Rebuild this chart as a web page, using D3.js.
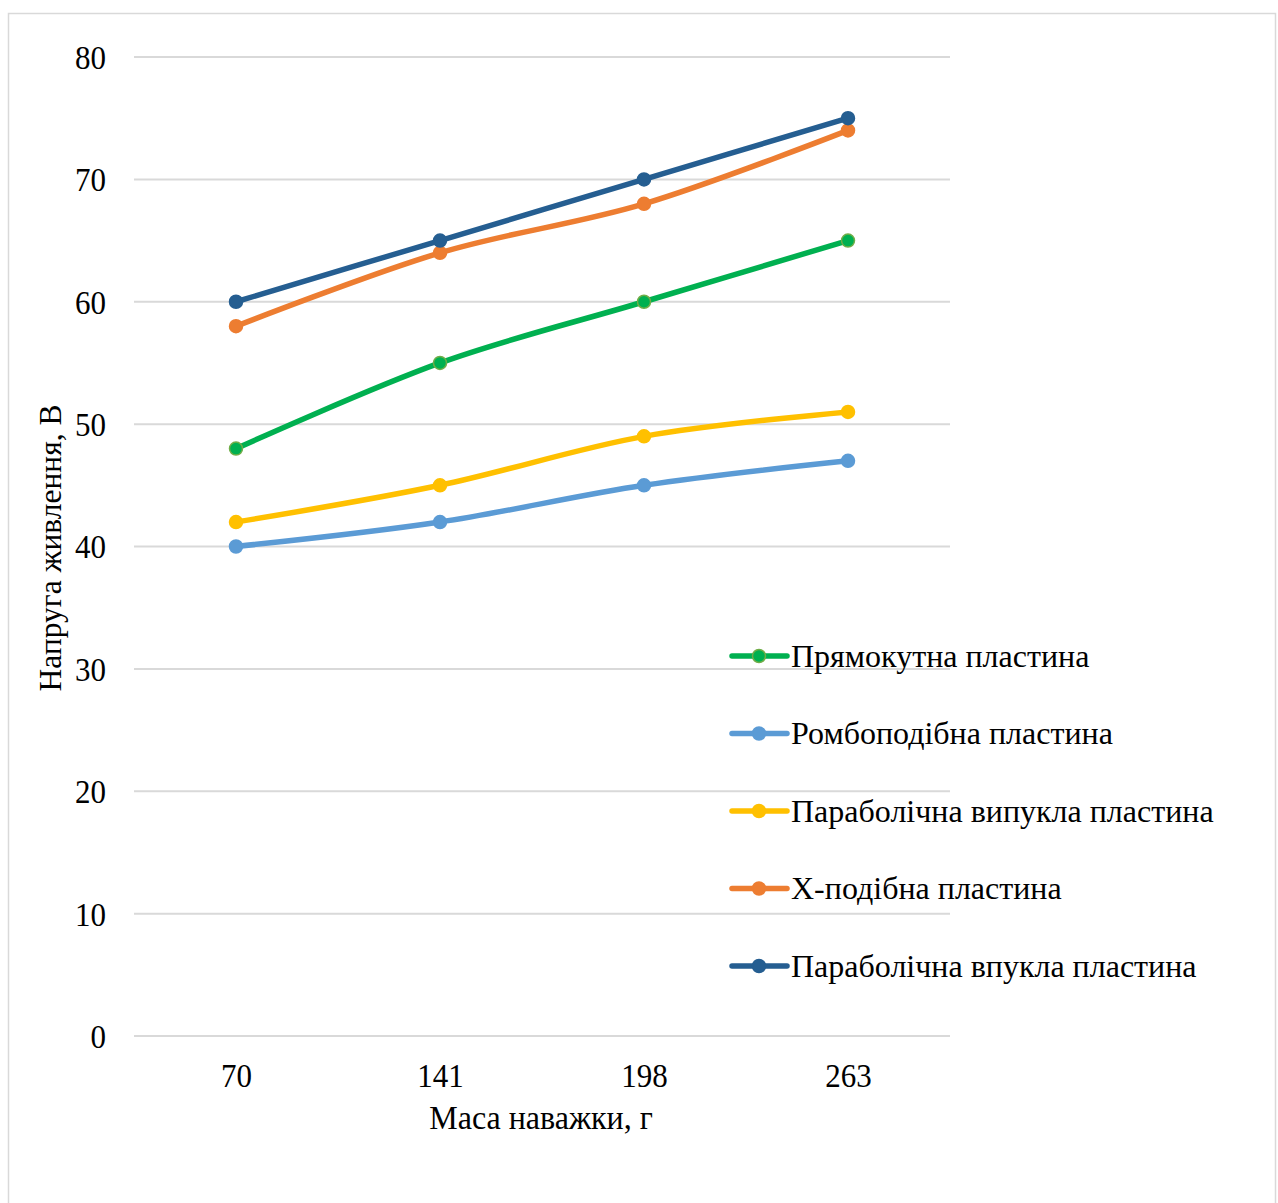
<!DOCTYPE html>
<html>
<head>
<meta charset="utf-8">
<script src="https://cdn.jsdelivr.net/npm/d3@7"></script>
<style>
  html, body { margin: 0; padding: 0; background: #fff; }
  svg { display: block; }
  text { font-family: "Liberation Serif", "Times New Roman", serif; fill: #000; }
</style>
</head>
<body>
<svg id="chart" width="1278" height="1203"></svg>
<script>
// Mass of the weight, g
const categories = ["70", "141", "198", "263"];

// Supply voltage, V, for each plate shape
const seriesNames = [
  "Прямокутна пластина",
  "Ромбоподібна пластина",
  "Параболічна випукла пластина",
  "X-подібна пластина",
  "Параболічна впукла пластина"
];
const rectangular = [48, 55, 60, 65];
const rhombic = [40, 42, 45, 47];
const parabolicConvex = [42, 45, 49, 51];
const xShaped = [58, 64, 68, 74];
const parabolicConcave = [60, 65, 70, 75];

const yTicks = [0, 10, 20, 30, 40, 50, 60, 70, 80];

const colors = ["#00b050", "#5b9bd5", "#ffc000", "#ed7d31", "#255e91"];
const markerStroke = ["#70ad47", "#5b9bd5", "#ffc000", "#ed7d31", "#255e91"];

const series = [rectangular, rhombic, parabolicConvex, xShaped, parabolicConcave]
  .map((values, i) => ({ name: seriesNames[i], values, color: colors[i], stroke: markerStroke[i] }));

const svg = d3.select("#chart");

// outer chart frame
svg.append("rect")
  .attr("x", 8.5).attr("y", 13.5)
  .attr("width", 1267).attr("height", 1200)
  .attr("fill", "none").attr("stroke", "#d9d9d9").attr("stroke-width", 1.5);

const plot = { left: 134, right: 950, top: 57, bottom: 1036 };

const x = d3.scalePoint().domain(categories).range([plot.left, plot.right]).padding(0.5);
const y = d3.scaleLinear().domain([0, 80]).range([plot.bottom, plot.top]);

// horizontal gridlines
svg.append("g")
  .selectAll("line")
  .data(yTicks)
  .join("line")
  .attr("x1", plot.left).attr("x2", plot.right)
  .attr("y1", d => y(d)).attr("y2", d => y(d))
  .attr("stroke", "#d9d9d9").attr("stroke-width", 2);

// y axis labels
const yAxis = d3.axisLeft(y).tickValues(yTicks).tickSize(0).tickPadding(0);
const gy = svg.append("g").attr("transform", `translate(${plot.left - 28},0)`).call(yAxis);
gy.select(".domain").remove();
gy.selectAll("text")
  .attr("font-size", 31)
  .attr("dy", "0.34em")
  .attr("transform", "scale(1,1.08)");

// x axis labels
const xAxis = d3.axisBottom(x).tickSize(0).tickPadding(0);
const gx = svg.append("g").attr("transform", `translate(0,${plot.bottom + 27})`).call(xAxis);
gx.select(".domain").remove();
gx.selectAll("text")
  .attr("font-size", 31)
  .attr("dy", "0.71em")
  .attr("transform", "scale(1,1.08)");

// axis titles
svg.append("text")
  .attr("transform", "translate(541,1129) scale(1,1.06)")
  .attr("text-anchor", "middle")
  .attr("font-size", 32)
  .text("Маса наважки, г");

svg.append("text")
  .attr("transform", "translate(61,548) rotate(-90)")
  .attr("text-anchor", "middle")
  .attr("font-size", 31.5)
  .text("Напруга живлення, В");

// smoothed series lines
const line = d3.line()
  .x((d, i) => x(categories[i]))
  .y(d => y(d))
  .curve(d3.curveCardinal.tension(0));

const gSeries = svg.append("g");
series.forEach(s => {
  const g = gSeries.append("g");
  g.append("path")
    .datum(s.values)
    .attr("d", line)
    .attr("fill", "none")
    .attr("stroke", s.color)
    .attr("stroke-width", 5.5)
    .attr("stroke-linecap", "round");
  g.selectAll("circle")
    .data(s.values)
    .join("circle")
    .attr("cx", (d, i) => x(categories[i]))
    .attr("cy", d => y(d))
    .attr("r", 6.5)
    .attr("fill", s.color)
    .attr("stroke", s.stroke)
    .attr("stroke-width", 1.5);
});

// legend
const legend = svg.append("g").attr("transform", "translate(732,656)");
const rowGap = 77.5;
series.forEach((s, i) => {
  const row = legend.append("g").attr("transform", `translate(0,${i * rowGap})`);
  row.append("line")
    .attr("x1", 0).attr("x2", 55).attr("y1", 0).attr("y2", 0)
    .attr("stroke", s.color).attr("stroke-width", 5.5).attr("stroke-linecap", "round");
  row.append("circle")
    .attr("cx", 27).attr("cy", 0).attr("r", 6.5)
    .attr("fill", s.color).attr("stroke", s.stroke).attr("stroke-width", 1.5);
  row.append("text")
    .attr("x", 59).attr("y", 0).attr("dy", "0.34em")
    .attr("font-size", 32)
    .text(s.name);
});
</script>
</body>
</html>
